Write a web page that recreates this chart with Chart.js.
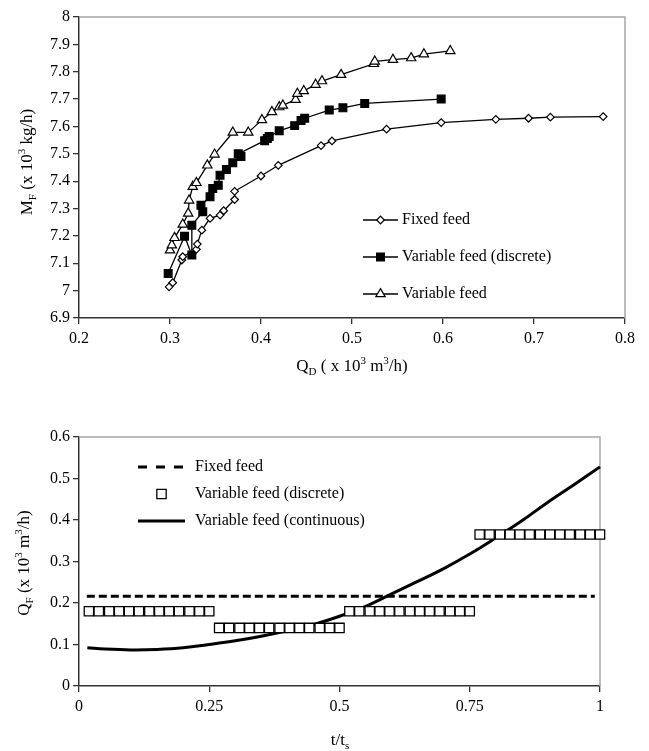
<!DOCTYPE html>
<html>
<head>
<meta charset="utf-8">
<script src="https://cdn.jsdelivr.net/npm/chart.js@4.4.1/dist/chart.umd.min.js"></script>
<style>
  body { margin: 0; background: #fff; }
  canvas { display: block; }
</style>
</head>
<body>
<canvas id="topChart" width="649" height="385"></canvas>
<canvas id="bottomChart" width="649" height="366"></canvas>
<script>
// ---- top chart: M_F vs Q_D ----
const fixedQD = [0.299, 0.303, 0.313, 0.314, 0.329, 0.330, 0.335, 0.344, 0.355, 0.359, 0.371, 0.371, 0.400, 0.419, 0.466, 0.478, 0.538, 0.598, 0.658, 0.694, 0.718, 0.776];
const fixedMF = [7.014, 7.029, 7.112, 7.124, 7.151, 7.170, 7.221, 7.264, 7.276, 7.292, 7.333, 7.363, 7.419, 7.458, 7.530, 7.547, 7.590, 7.614, 7.626, 7.630, 7.634, 7.636];

const discQD = [0.298, 0.316, 0.324, 0.324, 0.336, 0.334, 0.344, 0.347, 0.353, 0.355, 0.362, 0.369, 0.378, 0.375, 0.404, 0.407, 0.409, 0.420, 0.437, 0.444, 0.448, 0.475, 0.490, 0.514, 0.598];
const discMF = [7.063, 7.199, 7.130, 7.239, 7.288, 7.312, 7.343, 7.373, 7.385, 7.422, 7.443, 7.467, 7.490, 7.500, 7.548, 7.556, 7.563, 7.584, 7.603, 7.622, 7.630, 7.660, 7.668, 7.684, 7.700];

const varQD = [0.300, 0.302, 0.305, 0.314, 0.320, 0.321, 0.325, 0.329, 0.341, 0.349, 0.369, 0.386, 0.401, 0.412, 0.420, 0.424, 0.438, 0.440, 0.447, 0.460, 0.467, 0.488, 0.524, 0.525, 0.545, 0.565, 0.579, 0.608];
const varMF = [7.148, 7.166, 7.193, 7.242, 7.282, 7.330, 7.380, 7.394, 7.458, 7.498, 7.578, 7.578, 7.624, 7.653, 7.671, 7.677, 7.698, 7.720, 7.730, 7.753, 7.766, 7.789, 7.829, 7.838, 7.844, 7.850, 7.864, 7.876];

const topXTicks = [0.2, 0.8, 0.1];   // min, max, step
const topYTicks = [6.9, 8, 0.1];

// ---- bottom chart: Q_F vs t/t_s ----
const fixedT = [0.015, 0.99];
const fixedQF = [0.216, 0.216];

const discT = [0.019, 0.038, 0.058, 0.077, 0.096, 0.115, 0.135, 0.154, 0.173, 0.192, 0.212, 0.231, 0.250,
               0.269, 0.288, 0.308, 0.327, 0.346, 0.365, 0.385, 0.404, 0.423, 0.442, 0.462, 0.481, 0.500,
               0.519, 0.538, 0.558, 0.577, 0.596, 0.615, 0.635, 0.654, 0.673, 0.692, 0.712, 0.731, 0.750,
               0.769, 0.788, 0.808, 0.827, 0.846, 0.865, 0.885, 0.904, 0.923, 0.942, 0.962, 0.981, 1.000];
const discQF = [0.18, 0.18, 0.18, 0.18, 0.18, 0.18, 0.18, 0.18, 0.18, 0.18, 0.18, 0.18, 0.18,
                0.14, 0.14, 0.14, 0.14, 0.14, 0.14, 0.14, 0.14, 0.14, 0.14, 0.14, 0.14, 0.14,
                0.18, 0.18, 0.18, 0.18, 0.18, 0.18, 0.18, 0.18, 0.18, 0.18, 0.18, 0.18, 0.18,
                0.365, 0.365, 0.365, 0.365, 0.365, 0.365, 0.365, 0.365, 0.365, 0.365, 0.365, 0.365, 0.365, 0.365];

const contT = [0.016, 0.05, 0.1, 0.15, 0.2, 0.25, 0.3, 0.35, 0.4, 0.45, 0.5, 0.55, 0.6, 0.65, 0.7, 0.75, 0.8, 0.85, 0.9, 0.95, 1.0];
const contQF = [0.092, 0.089, 0.087, 0.088, 0.092, 0.100, 0.109, 0.120, 0.133, 0.148, 0.168, 0.192, 0.222, 0.252, 0.283, 0.318, 0.357, 0.398, 0.443, 0.485, 0.528];

const bottomXTicks = [0, 1, 0.25];
const bottomYTicks = [0, 0.6, 0.1];

const FONT = "'Liberation Serif', 'Times New Roman', serif";
const pts = (xs, ys) => xs.map((x, i) => ({ x: x, y: ys[i] }));
const fmt = v => String(Number(v.toFixed(3)));

function drawRich(ctx, parts, cx, cy, angle) {
  ctx.save();
  ctx.translate(cx, cy);
  ctx.rotate(angle);
  ctx.textBaseline = 'middle';
  ctx.fillStyle = '#000';
  const fontFor = p => (p.sub || p.sup ? '11px ' : '17px ') + FONT;
  let total = 0;
  parts.forEach(p => { ctx.font = fontFor(p); total += ctx.measureText(p.text).width; });
  let x = -total / 2;
  parts.forEach(p => {
    ctx.font = fontFor(p);
    const dy = p.sub ? 5 : p.sup ? -6 : 0;
    ctx.fillText(p.text, x, dy);
    x += ctx.measureText(p.text).width;
  });
  ctx.restore();
}

// axis titles with sub/superscripts
const richTitles = {
  id: 'richTitles',
  afterDraw(chart, args, opts) {
    opts.items.forEach(t => drawRich(chart.ctx, t.parts, t.x, t.y, t.angle || 0));
  }
};

// grey top/right frame of the plot area
const plotFrame = {
  id: 'plotFrame',
  beforeDatasetsDraw(chart) {
    const { ctx, chartArea: a } = chart;
    ctx.save();
    ctx.strokeStyle = '#a6a6a6';
    ctx.lineWidth = 1.5;
    ctx.beginPath();
    ctx.moveTo(a.left, a.top);
    ctx.lineTo(a.right, a.top);
    ctx.lineTo(a.right, a.bottom);
    ctx.stroke();
    ctx.restore();
  }
};

// legend drawn inside the plot area
const insideLegend = {
  id: 'insideLegend',
  afterDraw(chart, args, opts) {
    const ctx = chart.ctx;
    ctx.save();
    ctx.font = opts.font;
    ctx.textBaseline = 'middle';
    chart.data.datasets.forEach((ds, i) => {
      const y = opts.y + i * opts.rowGap;
      const x0 = opts.x, x1 = opts.x + opts.lineLength;
      if (ds.showLine !== false) {
        ctx.save();
        ctx.strokeStyle = ds.borderColor;
        ctx.lineWidth = ds.borderWidth;
        ctx.setLineDash(ds.legendDash || ds.borderDash || []);
        ctx.beginPath();
        ctx.moveTo(x0, y);
        ctx.lineTo(x1, y);
        ctx.stroke();
        ctx.restore();
      }
      if (ds.pointRadius > 0) {
        ctx.save();
        ctx.fillStyle = ds.pointBackgroundColor;
        ctx.strokeStyle = ds.pointBorderColor;
        ctx.lineWidth = ds.pointBorderWidth;
        Chart.helpers.drawPoint(ctx, {
          pointStyle: ds.pointStyle, rotation: 0,
          radius: ds.pointRadius, borderWidth: ds.pointBorderWidth
        }, (x0 + x1) / 2, y);
        ctx.restore();
      }
      ctx.fillStyle = '#000';
      ctx.fillText(ds.label, x1 + opts.textGap, y);
    });
    ctx.restore();
  }
};

function axis(range, fitSize, isX) {
  return {
    type: 'linear',
    min: range[0],
    max: range[1],
    grid: { display: true, drawOnChartArea: false, drawTicks: true, tickLength: 6, color: '#333', lineWidth: 1.3 },
    border: { display: true, color: '#333', width: 1.5 },
    ticks: {
      stepSize: range[2],
      color: '#000',
      padding: isX ? 5 : 3,
      maxRotation: 0,
      autoSkip: false,
      font: { family: FONT, size: 16 },
      callback: v => fmt(v)
    },
    afterFit: s => { if (isX) s.height = fitSize; else s.width = fitSize; }
  };
}

const lineSeries = (label, xs, ys, style, radius, fill) => ({
  label: label,
  data: pts(xs, ys),
  showLine: true,
  borderColor: '#000',
  borderWidth: 1.3,
  pointStyle: style,
  pointRadius: radius,
  pointBackgroundColor: fill,
  pointBorderColor: '#000',
  pointBorderWidth: 1.2,
  tension: 0,
  clip: false
});

new Chart(document.getElementById('topChart'), {
  type: 'scatter',
  data: {
    datasets: [
      lineSeries('Fixed feed', fixedQD, fixedMF, 'rectRot', 3.8, '#fff'),
      lineSeries('Variable feed (discrete)', discQD, discMF, 'rect', 5.5, '#000'),
      lineSeries('Variable feed', varQD, varMF, 'triangle', 5.4, '#fff')
    ]
  },
  options: {
    responsive: false,
    animation: false,
    layout: { padding: { top: 17, right: 24, left: 0, bottom: 0 } },
    scales: {
      x: axis(topXTicks, 67, true),
      y: axis(topYTicks, 79, false)
    },
    plugins: {
      legend: { display: false },
      tooltip: { enabled: false },
      insideLegend: { x: 363, y: 220, rowGap: 37, lineLength: 35, textGap: 4, font: '16px ' + FONT },
      richTitles: {
        items: [
          { parts: [{ text: 'M' }, { text: 'F', sub: true }, { text: ' (x 10' }, { text: '3', sup: true }, { text: ' kg/h)' }], x: 28, y: 162, angle: -Math.PI / 2 },
          { parts: [{ text: 'Q' }, { text: 'D', sub: true }, { text: ' ( x 10' }, { text: '3', sup: true }, { text: ' m' }, { text: '3', sup: true }, { text: '/h)' }], x: 352, y: 367 }
        ]
      }
    }
  },
  plugins: [plotFrame, insideLegend, richTitles]
});

new Chart(document.getElementById('bottomChart'), {
  type: 'scatter',
  data: {
    datasets: [
      {
        label: 'Fixed feed',
        data: pts(fixedT, fixedQF),
        showLine: true,
        borderColor: '#000',
        borderWidth: 3,
        borderDash: [8, 4],
        legendDash: [9, 9],
        pointRadius: 0,
        clip: false
      },
      {
        label: 'Variable feed (discrete)',
        data: pts(discT, discQF),
        showLine: false,
        pointStyle: 'rect',
        pointRadius: 6.6,
        pointBackgroundColor: '#fff',
        pointBorderColor: '#000',
        pointBorderWidth: 1.3,
        clip: false
      },
      {
        label: 'Variable feed (continuous)',
        data: pts(contT, contQF),
        showLine: true,
        borderColor: '#000',
        borderWidth: 3,
        pointRadius: 0,
        tension: 0.4,
        clip: false
      }
    ]
  },
  options: {
    responsive: false,
    animation: false,
    layout: { padding: { top: 52, right: 49, left: 0, bottom: 0 } },
    scales: {
      x: axis(bottomXTicks, 65, true),
      y: axis(bottomYTicks, 79, false)
    },
    plugins: {
      legend: { display: false },
      tooltip: { enabled: false },
      insideLegend: { x: 138, y: 82, rowGap: 27, lineLength: 47, textGap: 10, font: '16px ' + FONT },
      richTitles: {
        items: [
          { parts: [{ text: 'Q' }, { text: 'F', sub: true }, { text: ' (x 10' }, { text: '3', sup: true }, { text: ' m' }, { text: '3', sup: true }, { text: '/h)' }], x: 25, y: 178, angle: -Math.PI / 2 },
          { parts: [{ text: 't/t' }, { text: 's', sub: true }], x: 340, y: 356 }
        ]
      }
    }
  },
  plugins: [plotFrame, insideLegend, richTitles]
});
</script>
</body>
</html>
